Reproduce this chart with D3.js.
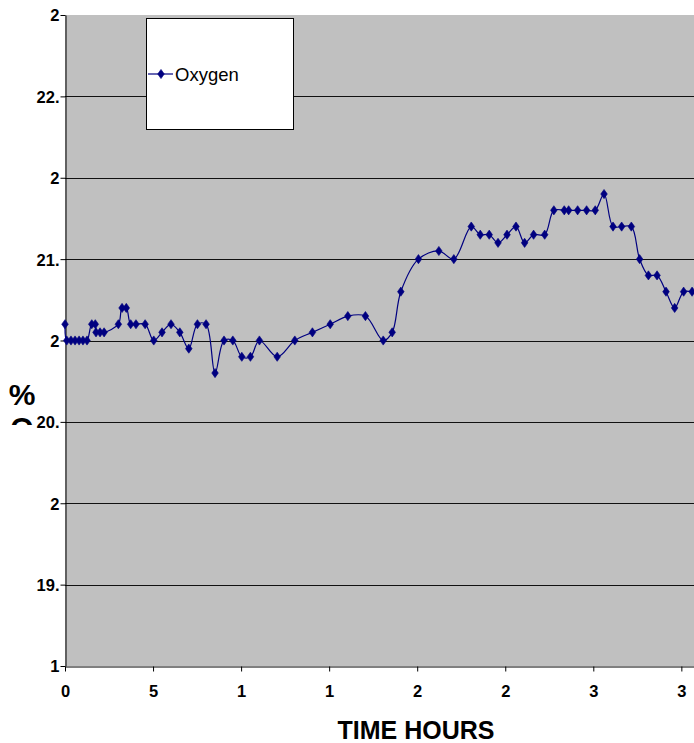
<!DOCTYPE html>
<html>
<head>
<meta charset="utf-8">
<script src="https://cdn.jsdelivr.net/npm/d3@7"></script>
<style>
  html, body { margin: 0; padding: 0; background: #fff; overflow: hidden; }
  svg { display: block; font-family: "Liberation Sans", Arial, sans-serif; }
</style>
</head>
<body>
<svg id="chart" width="694" height="743"></svg>
<script>
// ---- data ----
const timeValues = [0.00,0.10,0.34,0.57,0.80,1.02,1.25,1.52,1.72,1.76,1.99,2.22,3.03,3.24,3.48,3.73,4.03,4.55,5.04,5.51,6.02,6.52,7.03,7.52,8.01,8.52,9.03,9.53,10.04,10.53,11.04,12.05,13.05,14.05,15.06,16.06,17.06,18.07,18.58,19.07,20.07,21.23,22.08,23.07,23.58,24.09,24.59,25.10,25.61,26.10,26.61,27.24,27.76,28.35,28.60,29.11,29.62,30.11,30.61,31.12,31.61,32.16,32.63,33.13,33.62,34.13,34.62,35.13,35.61,36.12];
const oxygenValues = [21.1,21.0,21.0,21.0,21.0,21.0,21.0,21.1,21.1,21.05,21.05,21.05,21.1,21.2,21.2,21.1,21.1,21.1,21.0,21.05,21.1,21.05,20.95,21.1,21.1,20.8,21.0,21.0,20.9,20.9,21.0,20.9,21.0,21.05,21.1,21.15,21.15,21.0,21.05,21.3,21.5,21.55,21.5,21.7,21.65,21.65,21.6,21.65,21.7,21.6,21.65,21.65,21.8,21.8,21.8,21.8,21.8,21.8,21.9,21.7,21.7,21.7,21.5,21.4,21.4,21.3,21.2,21.3,21.3,21.3];
const seriesName = "Oxygen";
const xTickValues = [0,5,10,15,20,25,30,35];
const xTickLabels = ["0","5","1","1","2","2","3","3"];
const yTickValues = [19,19.5,20,20.5,21,21.5,22,22.5,23];
const yTickLabels = ["1","19.","2","20.","2","21.","2","22.","2"];
const xTitle = "TIME HOURS";
const yTitleLines = ["%", "O"];

// ---- layout ----
const plotLeft = 65, plotTop = 15, plotBottom = 666;
const unitPx = 88.05 / 5;
const xMax = 40;

const x = d3.scaleLinear().domain([0, xMax]).range([plotLeft, plotLeft + xMax * unitPx]);
const y = d3.scaleLinear().domain([19, 23]).range([plotBottom, plotTop]);

const svg = d3.select("#chart");
const navy = "#000080";

// plot background
svg.append("rect")
  .attr("x", plotLeft).attr("y", plotTop)
  .attr("width", x(xMax) - plotLeft).attr("height", plotBottom - plotTop)
  .attr("fill", "#c0c0c0");

// gridlines
svg.append("g").selectAll("line")
  .data(yTickValues.filter(v => v > 19 && v < 23))
  .join("line")
  .attr("x1", plotLeft).attr("x2", x(xMax))
  .attr("y1", d => Math.round(y(d)) + 0.5).attr("y2", d => Math.round(y(d)) + 0.5)
  .attr("stroke", "#111").attr("stroke-width", 1);

// y axis
const yAxis = d3.axisLeft(y)
  .tickValues(yTickValues)
  .tickFormat((d, i) => yTickLabels[i])
  .tickSizeInner(5).tickSizeOuter(0).tickPadding(1);
const gy = svg.append("g").attr("transform", `translate(${plotLeft + 0.5},0)`).call(yAxis);
gy.select(".domain").attr("stroke", "#000");
gy.selectAll(".tick line").attr("stroke", "#000");
gy.selectAll(".tick text")
  .attr("font-size", 16.5).attr("font-weight", "bold")
  .attr("font-family", "'Liberation Sans', Arial, sans-serif")
  .attr("fill", "#000").attr("dy", "0.36em");

// x axis
const xAxis = d3.axisBottom(x)
  .tickValues(xTickValues)
  .tickFormat((d, i) => xTickLabels[i])
  .tickSizeInner(5).tickSizeOuter(0).tickPadding(14);
const gx = svg.append("g").attr("transform", `translate(0,${plotBottom + 0.5})`).call(xAxis);
gx.select(".domain").attr("stroke", "#000");
gx.selectAll(".tick line").attr("stroke", "#000");
gx.selectAll(".tick text")
  .attr("font-size", 16.5).attr("font-weight", "bold")
  .attr("font-family", "'Liberation Sans', Arial, sans-serif")
  .attr("fill", "#000");

// data line
const pts = timeValues.map((t, i) => [t, oxygenValues[i]]);
const line = d3.line().x(d => x(d[0])).y(d => y(d[1])).curve(d3.curveCatmullRom.alpha(0.5));
svg.append("path")
  .datum(pts)
  .attr("d", line)
  .attr("fill", "none").attr("stroke", navy).attr("stroke-width", 1.2);

// diamond markers
const hw = 3.3, hh = 4.6;
const diamond = `M0,${-hh}L${hw},0L0,${hh}L${-hw},0Z`;
svg.append("g").selectAll("path")
  .data(pts)
  .join("path")
  .attr("transform", d => `translate(${x(d[0])},${y(d[1])})`)
  .attr("d", diamond)
  .attr("fill", navy).attr("stroke", navy).attr("stroke-width", 0.6);

// legend
const lg = svg.append("g");
lg.append("rect")
  .attr("x", 146.5).attr("y", 18.5).attr("width", 147).attr("height", 111)
  .attr("fill", "#fff").attr("stroke", "#000").attr("stroke-width", 1);
lg.append("line")
  .attr("x1", 148).attr("x2", 173).attr("y1", 74).attr("y2", 74)
  .attr("stroke", navy).attr("stroke-width", 1.2);
lg.append("path")
  .attr("transform", "translate(161,74)")
  .attr("d", diamond).attr("fill", navy).attr("stroke", navy).attr("stroke-width", 0.6);
lg.append("text")
  .attr("x", 175).attr("y", 81)
  .attr("font-size", 18.5).attr("fill", "#000")
  .text(seriesName);

// x title
svg.append("text")
  .attr("x", 416).attr("y", 739)
  .attr("text-anchor", "middle")
  .attr("font-size", 25).attr("font-weight", "bold").attr("fill", "#000")
  .text(xTitle);

// y title (partially clipped, as in the reference)
svg.append("clipPath").attr("id", "ytclip")
  .append("rect").attr("x", 0).attr("y", 0).attr("width", 60).attr("height", 425);
svg.append("g").attr("clip-path", "url(#ytclip)")
  .selectAll("text")
  .data(yTitleLines)
  .join("text")
  .attr("x", 22).attr("y", (d, i) => 405 + i * 33)
  .attr("text-anchor", "middle")
  .attr("font-size", 30).attr("font-weight", "bold").attr("fill", "#000")
  .text(d => d);
</script>
</body>
</html>
